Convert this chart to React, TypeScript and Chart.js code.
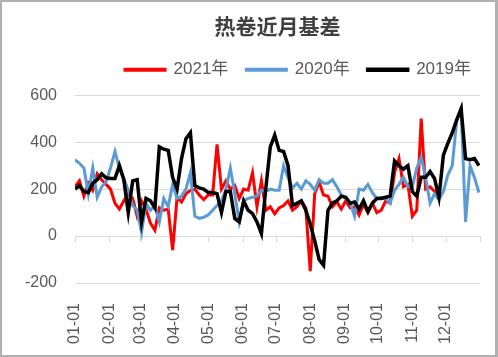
import React, { useEffect, useRef } from 'react';
import { Chart, registerables } from 'chart.js';

Chart.register(...registerables);

const TITLE = '热卷近月基差';
const SERIES_NAMES = ['2021年', '2020年', '2019年'];
const SERIES_COLORS = ['#ff0000', '#5b9bd5', '#000000'];

const MONTH_LABELS = ['01-01', '02-01', '03-01', '04-01', '05-01', '06-01', '07-01', '08-01', '09-01', '10-01', '11-01', '12-01'];
const MONTH_START_DAYS = [0, 31, 59, 90, 120, 151, 181, 212, 243, 273, 304, 334];
const YEAR_END_DAY = 365;

const Y_MIN = -200;
const Y_MAX = 600;
const Y_STEP = 200;

// day of year for each sample
const SAMPLE_DAYS = [
  0, 4, 8, 12, 16, 20, 24, 28, 32, 36, 40, 44, 48, 52, 56, 60, 64, 68, 72, 76,
  80, 84, 88, 92, 96, 100, 104, 108, 112, 116, 120, 124, 128, 132, 136, 140, 144, 148, 152, 156,
  160, 164, 168, 172, 176, 180, 184, 188, 192, 196, 200, 204, 208, 212, 216, 220, 224, 228, 232, 236,
  240, 244, 248, 252, 256, 260, 264, 268, 272, 276, 280, 284, 288, 292, 296, 300, 304, 308, 312, 316,
  320, 324, 328, 332, 336, 340, 344, 348, 352, 356, 360, 364,
];

const BASIS_2021 = [
  210, 235, 170, 225, 195, 265, 240, 220, 200, 140, 115, 150, 180, 160, 85, 150, 115, 55, 25, 120,
  110, 115, -60, 165, 145, 180, 195, 200, 175, 155, 175, 175, 390, 200, 235, 200, 215, 160, 200, 195,
  270, 125, 235, 110, 125, 95, 120, 130, 150, 110, 125, 150, 120, -150, 180, 230, 175, 170, 125, 145,
  115, 150, 120, 125, 90, 135, 100, 140, 100, 110, 150, 140, 270, 330, 210, 220, 85, 110, 500, 200,
  210, 190, 160,
];

const BASIS_2020 = [
  325, 310, 290, 180, 290, 165, 210, 230, 290, 360, 290, 245, 195, 130, 110, 15, 140, 110, 130, 60,
  160, 125, 220, 160, 170, 200, 270, 85, 75, 80, 90, 110, 130, 150, 200, 290, 180, 60, 150, 160,
  165, 170, 195, 190, 200, 195, 195, 300, 250, 205, 225, 200, 235, 220, 195, 240, 225, 225, 240, 210,
  175, 160, 140, 85, 200, 195, 220, 185, 160, 165, 160, 140, 195, 220, 250, 210, 210, 290, 335, 250,
  140, 180, 155, 190, 260, 300, 490, 540, 60, 300, 250, 185,
];

const BASIS_2019 = [
  200, 215, 190, 185, 225, 240, 265, 248, 245, 245, 300, 240, 100, 235, 240, 60, 160, 150, 120, 380,
  370, 365, 250, 200, 330, 415, 440, 215, 205, 200, 185, 185, 180, 100, 190, 190, 75, 60, 150, 110,
  95, 60, 10, 205, 380, 430, 365, 360, 300, 130, 140, 150, 110, 50, -20, -100, -125, 110, 140, 150,
  170, 165, 140, 145, 115, 150, 105, 140, 160, 160, 165, 170, 320, 300, 285, 300, 190, 170, 250, 250,
  275, 245, 165, 345, 395, 440, 495, 543, 330, 325, 330, 300,
];

const SERIES_VALUES = [BASIS_2021, BASIS_2020, BASIS_2019];

const TEXT_FONT = '"Liberation Sans", "Noto Sans CJK SC", sans-serif';
const TITLE_FONT = '"Noto Sans CJK SC", "Liberation Sans", sans-serif';

const zeroAxisTicks = {
  id: 'zeroAxisTicks',
  beforeDatasetsDraw(chart: any) {
    const { ctx, scales } = chart;
    const xs = scales.x;
    const ys = scales.y;
    const y0 = Math.round(ys.getPixelForValue(0));
    ctx.save();
    ctx.strokeStyle = '#d9d9d9';
    ctx.lineWidth = 1;
    [...MONTH_START_DAYS, YEAR_END_DAY].forEach((d) => {
      const px = Math.round(xs.getPixelForValue(d)) + 0.5;
      ctx.beginPath();
      ctx.moveTo(px, y0);
      ctx.lineTo(px, y0 + 6);
      ctx.stroke();
    });
    ctx.restore();
  },
};

const legendShift = {
  id: 'legendShift',
  afterLayout(chart: any) {
    const lg = chart.legend;
    if (!lg) return;
    lg.left += 57;
    lg.right += 57;
    lg.top -= 7;
    lg.bottom -= 7;
  },
};

export default function App() {
  const canvasRef = useRef<HTMLCanvasElement | null>(null);

  useEffect(() => {
    const canvas = canvasRef.current;
    if (!canvas) return;
    const drawOrder = [2, 1, 0];
    const datasets = SERIES_VALUES.map((vals, i) => ({
      label: SERIES_NAMES[i],
      data: vals.map((v, j) => ({ x: SAMPLE_DAYS[j], y: v })),
      borderColor: SERIES_COLORS[i],
      backgroundColor: SERIES_COLORS[i],
      borderWidth: i === 2 ? 3.5 : 3,
      pointRadius: 0,
      pointHoverRadius: 0,
      tension: 0,
      order: drawOrder[i],
    }));

    const chart = new Chart(canvas, {
      type: 'line',
      data: { datasets },
      options: {
        responsive: false,
        animation: false,
        events: [],
        layout: { padding: { top: 0, left: 0, right: 15, bottom: 0 } },
        plugins: {
          title: {
            display: true,
            text: TITLE,
            fullSize: false,
            color: '#404040',
            font: { family: TITLE_FONT, size: 21, weight: 'bold' },
            padding: { top: 11, bottom: 12 },
          },
          legend: {
            display: true,
            position: 'top',
            fullSize: true,
            labels: {
              boxWidth: 40,
              boxHeight: 1,
              padding: 18,
              color: '#595959',
              font: { family: TEXT_FONT, size: 17 },
              sort: (a: any, b: any) => a.datasetIndex - b.datasetIndex,
            },
          },
          tooltip: { enabled: false },
        },
        scales: {
          x: {
            type: 'linear',
            min: 0,
            max: YEAR_END_DAY,
            grid: { display: false },
            border: { display: false },
            afterBuildTicks: (scale: any) => {
              scale.ticks = MONTH_START_DAYS.map((v) => ({ value: v }));
            },
            afterFit: (scale: any) => {
              scale.height = 72;
            },
            ticks: {
              autoSkip: false,
              maxRotation: 90,
              minRotation: 90,
              padding: 12,
              color: '#595959',
              font: { family: TEXT_FONT, size: 16 },
              callback: (_v: any, idx: number) => MONTH_LABELS[idx] ?? '',
            },
          },
          y: {
            type: 'linear',
            min: Y_MIN,
            max: Y_MAX,
            grid: { color: '#d9d9d9', lineWidth: 1, drawTicks: false },
            border: { display: false },
            afterFit: (scale: any) => {
              scale.width = 73;
            },
            ticks: {
              stepSize: Y_STEP,
              padding: 18,
              color: '#595959',
              font: { family: TEXT_FONT, size: 16 },
            },
          },
        },
      },
      plugins: [zeroAxisTicks, legendShift],
    } as any);

    return () => chart.destroy();
  }, []);

  return (
    <div
      style={{
        position: 'fixed',
        left: 0,
        top: 0,
        width: 498,
        height: 357,
        boxSizing: 'border-box',
        borderTop: '2px solid #b0b0b0',
        borderLeft: '2px solid #b0b0b0',
        borderBottom: '2px solid #b0b0b0',
        borderRight: '3px solid #b0b0b0',
        background: '#ffffff',
        overflow: 'hidden',
      }}
    >
      <canvas ref={canvasRef} width={493} height={353} style={{ display: 'block' }} />
    </div>
  );
}
